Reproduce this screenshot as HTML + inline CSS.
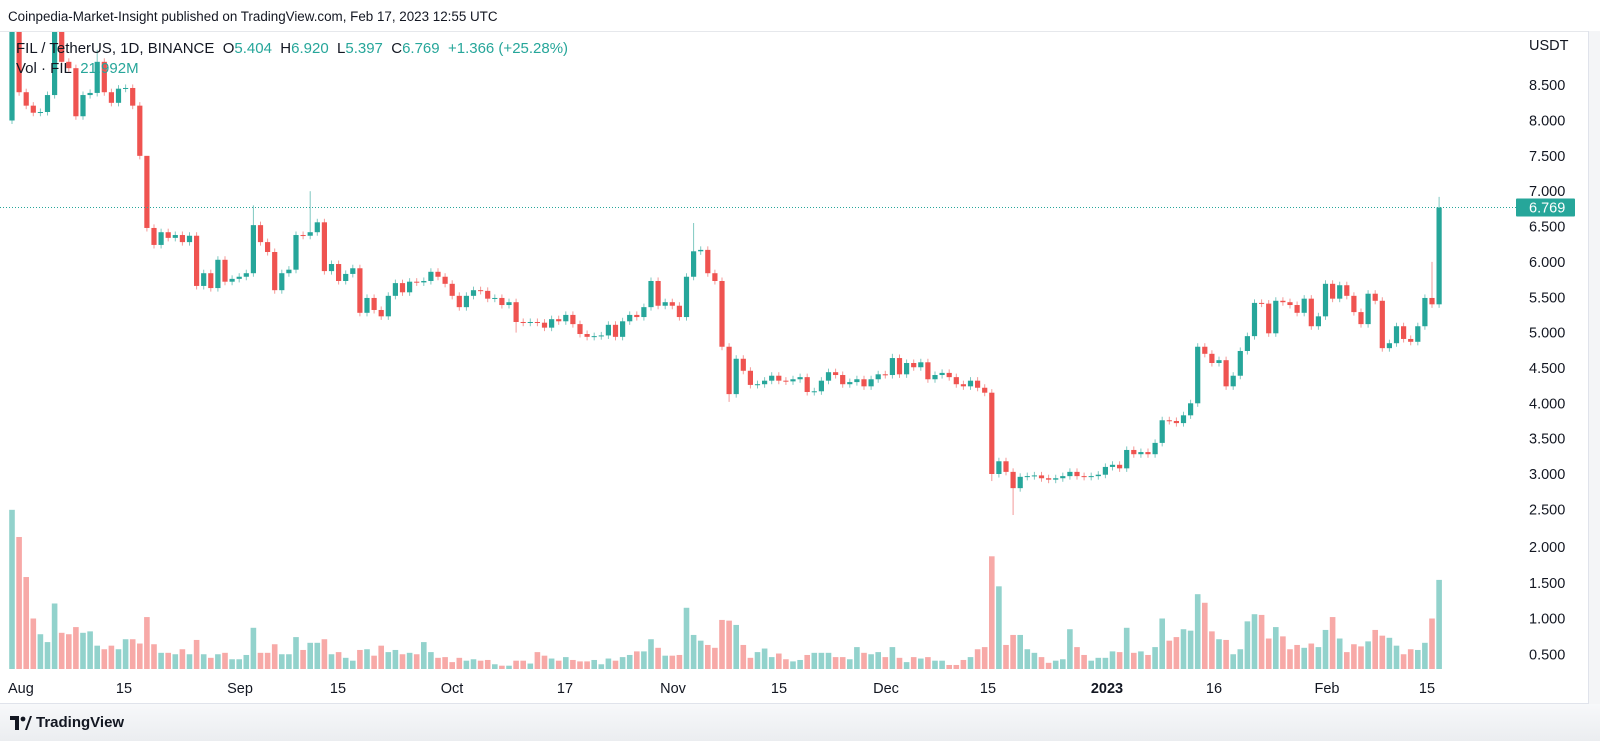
<!DOCTYPE html>
<html><head><meta charset="utf-8">
<style>
html,body{margin:0;padding:0;background:#fff;}
body{width:1600px;height:741px;overflow:hidden;position:relative;font-family:"Liberation Sans",sans-serif;color:#131722;}
.t{position:absolute;white-space:nowrap;}
</style></head>
<body>
<div class="t" style="left:8px;top:9px;font-size:13.4px;">Coinpedia-Market-Insight published on TradingView.com, Feb 17, 2023 12:55 UTC</div>
<div style="position:absolute;left:0;top:704px;width:1600px;height:37px;background:linear-gradient(#f7f8fa,#ebedf0);"></div>
<div style="position:absolute;left:1589px;top:31px;width:11px;height:673px;background:#f4f5f7;"></div>
<svg id="chart" width="1600" height="741" style="position:absolute;left:0;top:0;" xmlns="http://www.w3.org/2000/svg">
<defs><clipPath id="pc"><rect x="0" y="32" width="1516" height="637"/></clipPath></defs>
<line x1="0" y1="31.5" x2="1589" y2="31.5" stroke="#e6e8ec"/>
<line x1="1588.5" y1="31" x2="1588.5" y2="704" stroke="#e0e3eb"/>
<line x1="0" y1="703.5" x2="1589" y2="703.5" stroke="#e0e3eb"/>
<g id="vol" clip-path="url(#pc)"></g>
<g id="candles" clip-path="url(#pc)"></g>
<g id="axes"></g>
</svg>
<div class="t" style="left:16px;top:40px;font-size:15px;">FIL / TetherUS, 1D, BINANCE&nbsp;&nbsp;O<span style="color:#26a69a">5.404</span>&nbsp;&nbsp;H<span style="color:#26a69a">6.920</span>&nbsp;&nbsp;L<span style="color:#26a69a">5.397</span>&nbsp;&nbsp;C<span style="color:#26a69a">6.769</span>&nbsp;&nbsp;<span style="color:#26a69a">+1.366 (+25.28%)</span></div>
<div class="t" style="left:16px;top:60px;font-size:15px;">Vol · FIL&nbsp;&nbsp;<span style="color:#26a69a">21.992M</span></div>
<div class="t" style="left:1529px;top:38px;font-size:14.5px;">USDT</div>
<div style="position:absolute;left:10px;top:716px;width:22px;height:14px;">
<svg width="22" height="14"><path d="M0 0h9v14H5V4H0z" fill="#131722"/><circle cx="13" cy="3" r="2.4" fill="#131722"/><path d="M15 14l5-14h2l-5 14z" fill="#131722"/></svg></div>
<div class="t" style="left:36px;top:714px;font-size:15px;font-weight:bold;">TradingView</div>
<script>
const closes=[9.3,8.40,8.21,8.11,8.12,8.36,9.3,8.83,8.74,8.06,8.36,8.39,8.83,8.40,8.25,8.45,8.46,8.21,7.50,6.48,
6.24,6.42,6.34,6.38,6.28,6.37,5.66,5.84,5.63,6.03,5.72,5.76,5.79,5.84,6.52,6.28,6.14,5.60,5.84,5.89,
6.38,6.37,6.42,6.56,5.87,5.97,5.73,5.83,5.91,5.28,5.49,5.32,5.23,5.52,5.70,5.57,5.72,5.71,5.73,5.86,
5.79,5.69,5.52,5.36,5.52,5.60,5.59,5.48,5.49,5.39,5.43,5.15,5.14,5.15,5.14,5.07,5.19,5.16,5.25,5.12,
4.98,4.94,4.95,4.96,5.11,4.94,5.16,5.25,5.22,5.36,5.73,5.38,5.43,5.38,5.22,5.79,6.15,6.17,5.84,5.73,
4.80,4.13,4.63,4.46,4.26,4.27,4.32,4.39,4.32,4.31,4.34,4.37,4.16,4.17,4.32,4.44,4.40,4.27,4.30,4.34,
4.24,4.34,4.41,4.40,4.64,4.41,4.57,4.51,4.58,4.34,4.40,4.43,4.37,4.27,4.24,4.32,4.22,4.15,3.00,3.18,
3.03,2.80,2.96,2.97,2.98,2.94,2.92,2.94,2.97,3.03,2.97,2.96,2.97,2.99,3.10,3.13,3.08,3.34,3.28,3.31,
3.28,3.44,3.76,3.75,3.72,3.83,4.00,4.80,4.70,4.57,4.61,4.24,4.39,4.74,4.95,5.42,5.41,4.99,5.45,5.43,
5.39,5.28,5.48,5.09,5.23,5.69,5.48,5.67,5.52,5.29,5.12,5.55,5.45,4.78,4.85,5.09,4.91,4.87,5.09,5.49,
5.40,6.769];
const volumes=[2.52,2.14,1.58,1.0,.78,.67,1.21,.8,.78,.88,.8,.82,.62,.57,.62,.57,.71,.71,.65,1.02,
.64,.52,.52,.5,.57,.5,.7,.5,.45,.5,.52,.43,.43,.49,.87,.52,.52,.64,.5,.5,
.74,.56,.66,.66,.71,.5,.53,.45,.41,.56,.57,.48,.62,.53,.56,.5,.52,.5,.67,.53,
.45,.46,.39,.45,.41,.43,.41,.42,.36,.34,.34,.41,.41,.37,.53,.48,.44,.41,.46,.42,
.4,.4,.42,.36,.44,.41,.46,.49,.54,.54,.71,.59,.48,.48,.49,1.15,.77,.69,.63,.59,
.98,.97,.91,.63,.45,.53,.58,.46,.51,.43,.40,.42,.49,.52,.52,.52,.46,.46,.43,.60,
.52,.50,.53,.46,.60,.45,.39,.46,.44,.46,.41,.41,.35,.35,.42,.46,.57,.60,1.87,1.45,
.63,.77,.77,.57,.52,.46,.38,.41,.43,.85,.60,.49,.41,.45,.45,.54,.53,.87,.52,.54,
.49,.60,1.0,.69,.74,.85,.83,1.34,1.22,.82,.71,.70,.50,.57,.96,1.06,1.05,.72,.88,.75,
.57,.63,.59,.65,.60,.84,1.02,.72,.53,.64,.61,.68,.84,.76,.73,.62,.50,.57,.56,.66,
1.0,1.54];
const firstOpen=[8.0];
const highIdx=[34,42,96,124,200,201,19,12];
const highVal=[6.8,7.0,6.55,4.7,6.0,6.92,6.6,9.0];
const lowIdx=[141,101,200,71,138];
const lowVal=[2.42,4.02,5.35,5.0,2.9];
const priceTicks=[8.5,8.0,7.5,7.0,6.5,6.0,5.5,5.0,4.5,4.0,3.5,3.0,2.5];
const volTicks=[2.0,1.5,1.0,0.5];
const timeLabels=["15","Sep","15","Oct","17","Nov","15","Dec","15","2023","16","Feb","15"];
const timeLabelX=[124,240,338,452,565,673,779,886,988,1107,1214,1327,1427];
const lastPrice=[6.769];

const NS="http://www.w3.org/2000/svg";
const X0=12, STEP=7.1;
function xs(i){return X0+i*STEP;}
function yp(p){return 474-(p-3)*70.7;}
function yv(v){return 690-v*71.5;}
function mk(tag,attrs,parent){const e=document.createElementNS(NS,tag);for(const k in attrs)e.setAttribute(k,attrs[k]);parent.appendChild(e);return e;}
const gC=document.getElementById('candles'),gV=document.getElementById('vol'),gA=document.getElementById('axes');
const UP="#26a69a",DN="#ef5350";
for(let i=0;i<closes.length;i++){
  const o=i===0?firstOpen[0]:closes[i-1],c=closes[i];
  const up=c>=o;
  let hi=Math.max(o,c)+0.05,lo=Math.min(o,c)-0.05;
  const hk=highIdx.indexOf(i);if(hk>=0)hi=highVal[hk];
  const lk=lowIdx.indexOf(i);if(lk>=0)lo=lowVal[lk];
  const x=xs(i);
  const w=mk('line',{x1:x,x2:x,y1:yp(hi),y2:yp(lo),stroke:up?"#7fc8c1":"#f39a98","stroke-width":1},gC);
  
  
  const top=yp(Math.max(o,c)),bot=yp(Math.min(o,c));
  const b=mk('rect',{x:x-2.6,y:top,width:5.2,height:Math.max(1,bot-top),fill:up?UP:DN},gC);
  
  
  const vt=yv(volumes[i]);
  const vb=mk('rect',{x:x-2.8,y:vt,width:5.6,height:Math.max(0,669-vt),fill:up?"#92d2cc":"#f7a9a7"},gV);
  
  
}
function txt(s,x,y,attrs){const t=mk('text',Object.assign({x:x,y:y,'font-size':14.5,fill:'#131722','font-family':'Liberation Sans, sans-serif'},attrs||{}),gA);t.textContent=s;return t;}
priceTicks.forEach(p=>{const t=txt(p.toFixed(3),1529,yp(p)+5);
  
  });
volTicks.forEach(v=>{const t=txt(v.toFixed(3),1529,yv(v)+5);
  
  });
const ta=txt("Aug",8,693);


timeLabels.forEach((s,k)=>{const t=txt(s,timeLabelX[k],693,{'text-anchor':'middle','font-weight':s==="2023"?'bold':'normal'});
  
  });
const ly=yp(lastPrice[0]);
const dl=mk('line',{x1:0,x2:1516,y1:ly,y2:ly,stroke:UP,'stroke-width':1,'stroke-dasharray':'1 2'},gA);


const lb=mk('rect',{x:1516,y:ly-9,width:59,height:18,fill:UP,rx:1},gA);


const lt=txt(lastPrice[0].toFixed(3),1529,ly+5,{fill:'#fff'});


</script>
</body></html>
